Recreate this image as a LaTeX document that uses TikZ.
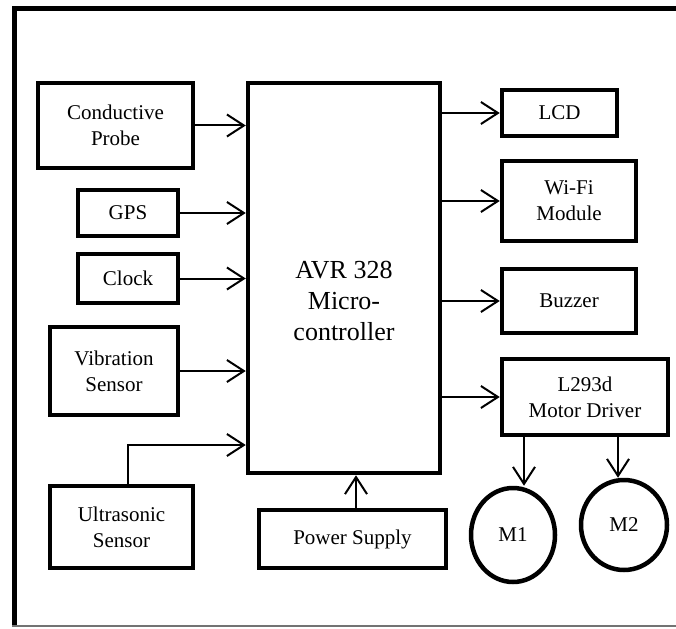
\documentclass[tikz,border=0pt]{standalone}
\usepackage{fontspec}
\setmainfont{Liberation Serif}
\usetikzlibrary{arrows.meta,shapes.geometric}

\tikzset{
    blk/.style={draw, rectangle, line width=4.5pt, inner sep=0pt, align=center, font=\fontsize{21}{26}\selectfont},
    mot/.style={draw, ellipse, line width=4.5pt, inner sep=0pt, font=\fontsize{21}{26}\selectfont},
    arr/.style={line width=2pt, -{Straight Barb[length=17pt,width=22pt]}}
}

\begin{document}
\begin{tikzpicture}[x=1pt,y=-1pt]
                \useasboundingbox (0,0) rectangle (676,628);
                \draw[line width=5pt] (14,626) -- (14,9) -- (676,9);
                \draw[line width=1.2pt, black!55] (12,626) -- (676,626);

                % controller
                \node[blk, minimum width=192pt, minimum height=390pt] (mc) at (344,278) {};
                \node[align=center, font=\fontsize{26}{31}\selectfont] (mctext) at (344,301) {AVR 328\\Micro-\\controller};

                % inputs
                \node[blk, minimum width=155pt, minimum height=85pt] (probe) at (115.5,125.5) {Conductive\\Probe};
                \node[blk, minimum width=100pt, minimum height=46pt] (gps) at (128,213) {GPS};
                \node[blk, minimum width=100pt, minimum height=49pt] (clock) at (128,278.5) {Clock};
                \node[blk, minimum width=128pt, minimum height=88pt] (vib) at (114,371) {Vibration\\Sensor};
                \node[blk, minimum width=143pt, minimum height=82pt] (ultra) at (121.5,527) {Ultrasonic\\Sensor};
                \node[blk, minimum width=187pt, minimum height=58pt] (power) at (352.5,539) {Power Supply};

                % outputs
                \node[blk, minimum width=115pt, minimum height=46pt] (lcd) at (559.5,113) {LCD};
                \node[blk, minimum width=134pt, minimum height=80pt] (wifi) at (569,201) {Wi-Fi\\Module};
                \node[blk, minimum width=134pt, minimum height=64pt] (buzzer) at (569,301) {Buzzer};
                \node[blk, minimum width=166pt, minimum height=76pt] (driver) at (585,397) {L293d\\Motor Driver};
                \node[mot, minimum width=84pt, minimum height=94pt] (m1) at (513,535) {M1};
                \node[mot, minimum width=86pt, minimum height=90pt] (m2) at (624,525) {M2};

                \coordinate (ubend) at (128,445);

                \foreach \n in {probe,gps,clock,vib}
                    \draw[arr] (\n.east) -- (\n.east -| mc.west);
                \draw[arr] (ubend |- ultra.north) -- (ubend) -- (ubend -| mc.west);
                \draw[arr] ([xshift=3.5pt]power.north) -- ([xshift=3.5pt]power.north |- mc.south);

                \foreach \n in {lcd,wifi,buzzer,driver}
                    \draw[arr] (mc.east |- \n.west) -- (\n.west);
                \draw[arr] ([xshift=-61pt]driver.south) -- ([xshift=-61pt]driver.south |- m1.north);
                \draw[arr] ([xshift=33pt]driver.south) -- ([xshift=33pt]driver.south |- m2.north);
\end{tikzpicture}
\end{document}
